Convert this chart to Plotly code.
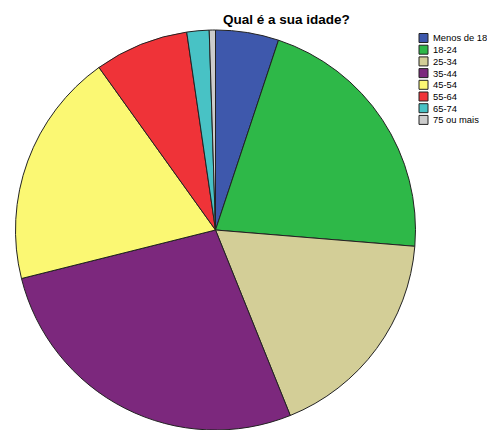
import plotly.graph_objects as go

# Age distribution of respondents (percent of answers)
faixas = ["Menos de 18", "18-24", "25-34", "35-44", "45-54", "55-64", "65-74", "75 ou mais"]
percentual = [5.1, 21.2, 17.6, 27.2, 19.0, 7.6, 1.8, 0.5]

cores = ["#3E58AC", "#2EB848", "#D3CE97", "#7C287D", "#FBF873", "#EF3338", "#48C2C5", "#CCCCCC"]

W, H = 487, 430
FONT = "Liberation Sans, Arial, sans-serif"

fig = go.Figure(
    go.Pie(
        labels=faixas,
        values=percentual,
        sort=False,
        direction="clockwise",
        rotation=0,
        textinfo="none",
        hoverinfo="label+percent",
        marker=dict(colors=cores, line=dict(color="#222222", width=1)),
        domain=dict(x=[15.5 / W, 415.5 / W], y=[0, 400 / H]),
        showlegend=False,
    )
)

# Compact legend in the top-right corner: swatch + label per age band
shapes = []
annotations = []
row0, step = 38.0, 11.7
for i, (nome, cor) in enumerate(zip(faixas, cores)):
    yc = row0 + i * step
    shapes.append(dict(
        type="rect", xref="paper", yref="paper",
        x0=419 / W, x1=428 / W,
        y0=1 - (yc + 4.5) / H, y1=1 - (yc - 4.5) / H,
        fillcolor=cor, line=dict(color="#222222", width=1),
    ))
    annotations.append(dict(
        text=nome, xref="paper", yref="paper",
        x=431 / W, y=1 - yc / H, xanchor="left", yanchor="middle",
        showarrow=False, font=dict(family=FONT, size=9.4, color="#000000"),
    ))

annotations.append(dict(
    text="<b>Qual é a sua idade?</b>", xref="paper", yref="paper",
    x=286 / W, y=1 - 19 / H, xanchor="center", yanchor="middle",
    showarrow=False, font=dict(family=FONT, size=13.5, color="#000000"),
))

fig.update_layout(
    width=W, height=H,
    margin=dict(l=0, r=0, t=0, b=0),
    paper_bgcolor="white", plot_bgcolor="white",
    shapes=shapes, annotations=annotations,
    font=dict(family=FONT),
)

fig.write_html("out.html")
